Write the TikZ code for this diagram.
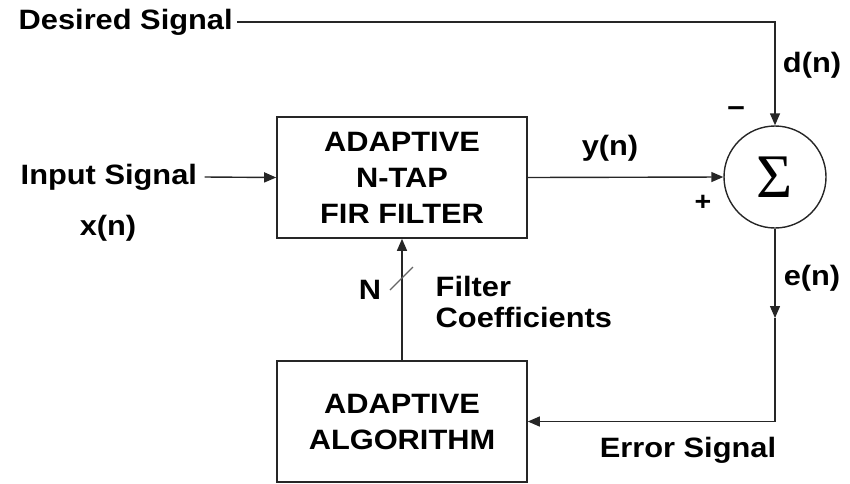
\documentclass[tikz,border=0pt]{standalone}
\usepackage{fontspec}
\setmainfont{Liberation Sans}[FakeStretch=1.1]
\newfontfamily\sigmafont{Liberation Serif}
\usetikzlibrary{arrows.meta}
\begin{document}
\begin{tikzpicture}[x=1pt,y=-1pt,line width=1.4pt,
  lbl/.style={font=\fontsize{28}{32}\selectfont\bfseries,inner sep=0pt},
  blk/.style={draw=black!85,line width=1.6pt,minimum width=250pt,minimum height=121pt,
    align=center,inner sep=0pt,font=\fontsize{28}{36}\selectfont\bfseries},
  arr/.style={draw=black!85,-{Triangle[length=12pt,width=10pt]}}]
\useasboundingbox (0,0) rectangle (850,483);
\node[blk] (fir) at (402,177.5) {ADAPTIVE\\N-TAP\\FIR FILTER};
\node[blk] (alg) at (402,421.5) {ADAPTIVE\\ALGORITHM};
\node[circle,draw=black!85,line width=1.4pt,minimum size=102pt,inner sep=0pt] (sum) at (775,177)
  {\sigmafont\fontsize{62}{62}\selectfont Σ};
\node[lbl,anchor=west] (des) at (18,22) {Desired Signal};
\node[lbl,anchor=west] (inp) at (20,177) {Input Signal};
\node[lbl] (xn) at (108,228) {x(n)};
\node[lbl] (yn) at (610,148) {y(n)};
\node[lbl] (dn) at (812,65) {d(n)};
\node[lbl] (en) at (812,278) {e(n)};
\node[lbl] (minus) at (736,112) {−};
\node[lbl,font=\fontsize{26}{26}\selectfont\bfseries] (plus) at (703,203) {+};
\node[lbl] (nn) at (370,290) {N};
\node[lbl,anchor=west,align=left,font=\fontsize{28}{31}\selectfont\bfseries] (fc) at (435,302) {Filter\\Coefficients};
\node[lbl] (err) at (688,450) {Error Signal};
\coordinate (emid) at (775,318);
\coordinate (s1) at (390,290);
\coordinate (s2) at (413,267);
\draw[arr] ([xshift=4pt]des.east) -| (sum.north);
\draw[arr] ([xshift=7pt]inp.east) -- (fir.west);
\draw[arr] (fir.east) -- (sum.west);
\draw[arr] (sum.south) -- (emid);
\draw[arr] (emid) |- (alg.east);
\draw[arr] (alg.north) -- (fir.south);
\draw[line width=1.1pt,black!60] (s1) -- (s2);
\end{tikzpicture}
\end{document}
